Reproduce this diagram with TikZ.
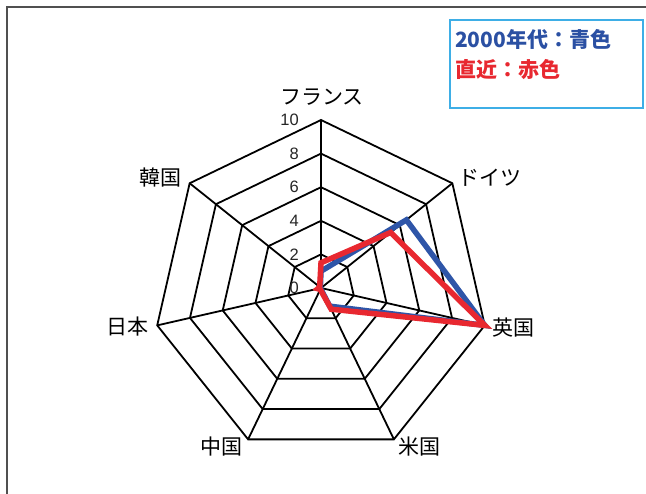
\documentclass[tikz,border=0pt]{standalone}
\usepackage{fontspec}
\setmainfont{Liberation Sans}
\newfontfamily\jp{Noto Sans CJK JP}
\usetikzlibrary{calc}
\definecolor{legblue}{HTML}{2B50A3}
\definecolor{legred}{HTML}{E82830}
\definecolor{datablue}{HTML}{2E55A8}
\definecolor{datared}{HTML}{E82830}
\definecolor{boxblue}{HTML}{3EAEE6}
\definecolor{framegray}{HTML}{505050}
\begin{document}
\begin{tikzpicture}[x=1pt,y=-1pt,
  grid/.style={draw=black,line width=1.8pt,line join=miter},
  series/.style={line width=5.5pt,line join=miter,miter limit=20},
  cat/.style={font=\jp\fontsize{21}{21}\selectfont,inner sep=0pt},
  ticklab/.style={font=\fontsize{16.5}{16.5}\selectfont,text=black!85,inner sep=0pt,anchor=east},
  legtext/.style={font=\jp\bfseries\fontsize{21}{21}\selectfont,inner sep=0pt,anchor=west}]
\useasboundingbox (0,0) rectangle (646,494);
\fill[white] (0,0) rectangle (646,494);
\draw[framegray,line width=1.8pt] (7,494) -- (7,7) -- (646,7);
% legend
\draw[boxblue,line width=1.8pt] (450,20) rectangle (643,108);
\node[legtext,text=legblue] (leg1) at (455,39) {2000年代：青色};
\node[legtext,text=legred] (leg2) at (455,70) {直近：赤色};
% chart
\begin{scope}[shift={(321,288)},y=1pt]
  \coordinate (O) at (0,0);
  \foreach \k in {0,...,6} \coordinate (v\k) at ({90-\k*360/7}:168pt);
  \foreach \r in {2,4,6,8,10}
    \draw[grid] (90:{\r*16.8pt})
      \foreach \k in {1,...,6}{ -- ({90-\k*360/7}:{\r*16.8pt})} -- cycle;
  \foreach \k in {0,...,6} \draw[grid] (O) -- (v\k);
  \foreach \r in {0,2,4,6,8,10}
    \node[ticklab] (t\r) at (-22pt,{\r*16.8pt}) {\r};
  % blue series (2000s)
  \draw[series,datablue] (90:{1.0*16.8pt}) -- ({90-360/7}:{6.5*16.8pt})
    -- ({90-2*360/7}:{10*16.8pt}) -- ({90-3*360/7}:{1.2*16.8pt})
    -- ({90-4*360/7}:{0.05*16.8pt}) -- ({90-5*360/7}:{0.05*16.8pt})
    -- ({90-6*360/7}:{0.05*16.8pt}) -- cycle;
  % red series (recent)
  \draw[series,datared] (90:{1.5*16.8pt}) -- ({90-360/7}:{5.3*16.8pt})
    -- ({90-2*360/7}:{10*16.8pt}) -- ({90-3*360/7}:{1.4*16.8pt})
    -- ({90-4*360/7}:{0.1*16.8pt}) -- ({90-5*360/7}:{0.2*16.8pt})
    -- ({90-6*360/7}:{0.1*16.8pt}) -- cycle;
\end{scope}
% category labels
\node[cat] (fr) at (322,97) {フランス};
\node[cat,anchor=west] (de) at (458,178) {ドイツ};
\node[cat,anchor=west] (uk) at (492,328) {英国};
\node[cat,anchor=west] (us) at (398,447) {米国};
\node[cat,anchor=east] (cn) at (243,447) {中国};
\node[cat,anchor=east] (jpn) at (149,327) {日本};
\node[cat,anchor=east] (kr) at (182,178) {韓国};
\end{tikzpicture}
\end{document}
